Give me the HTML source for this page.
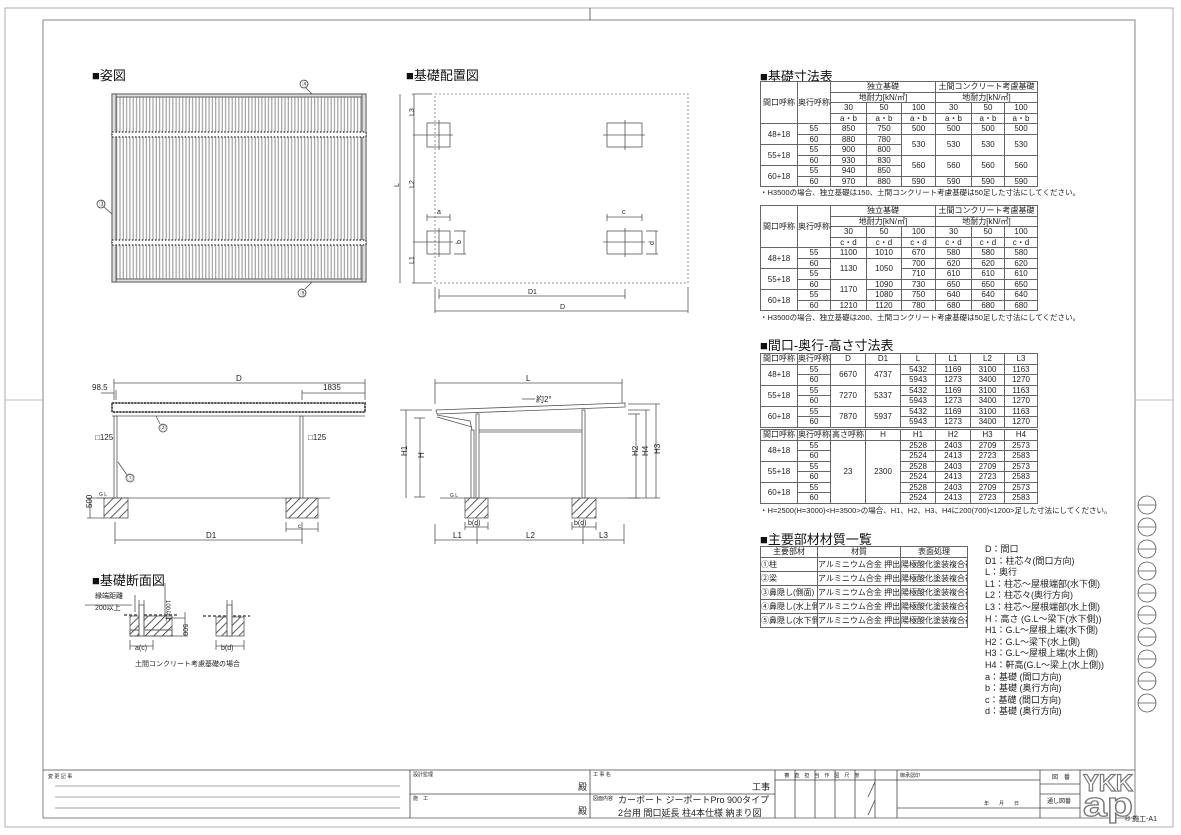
<!DOCTYPE html>
<html><head><meta charset="utf-8">
<style>
*{margin:0;padding:0;box-sizing:border-box}
body{width:1181px;height:835px;background:#fff;position:relative;overflow:hidden;font-family:"Liberation Sans","Noto Sans CJK JP",sans-serif;color:#222}
svg{position:absolute;left:0;top:0}
.t{position:absolute;border-collapse:collapse;table-layout:fixed;font-size:8px;text-align:center;font-family:"Liberation Sans","Noto Sans CJK JP",sans-serif;color:#222}
.t td{border:1px solid #666;padding:0;line-height:9px;height:10.5px;overflow:hidden;white-space:nowrap}
.h{position:absolute;font-size:13px;font-weight:normal;white-space:nowrap;color:#111}
.n{position:absolute;font-size:7.5px;white-space:nowrap}
.lg{position:absolute;left:985px;top:544px;font-size:9px;line-height:11.6px;white-space:nowrap}
</style></head><body>
<svg width="1181" height="835" viewBox="0 0 1181 835" font-family="Liberation Sans, Noto Sans CJK JP, sans-serif" font-size="8" fill="none" stroke="#444" stroke-width="0.8">
<defs>
<pattern id="st" width="3.3" height="10" patternUnits="userSpaceOnUse"><rect width="3.3" height="10" fill="#fff" stroke="none"/><line x1="1.2" y1="0" x2="1.2" y2="10" stroke="#999" stroke-width="1.1"/></pattern>
<pattern id="ht" width="6" height="6" patternUnits="userSpaceOnUse" patternTransform="rotate(45)"><line x1="0" y1="0" x2="0" y2="6" stroke="#333" stroke-width="1.6"/></pattern>
</defs>
<rect x="5" y="8" width="1168" height="819" stroke="#999"/>
<rect x="43" y="20" width="1092" height="798" stroke="#666"/>
<line x1="590" y1="8" x2="590" y2="20"/><line x1="5" y1="400" x2="43" y2="400" stroke="#aaa"/>
<line x1="1135" y1="400" x2="1173" y2="400" stroke="#aaa"/>
<g stroke="#555">
<circle cx="1147" cy="505" r="9"/><line x1="1138" y1="505" x2="1156" y2="505"/>
<circle cx="1147" cy="527" r="9"/><line x1="1138" y1="527" x2="1156" y2="527"/>
<circle cx="1147" cy="549" r="9"/><line x1="1138" y1="549" x2="1156" y2="549"/>
<circle cx="1147" cy="571" r="9"/><line x1="1138" y1="571" x2="1156" y2="571"/>
<circle cx="1147" cy="593" r="9"/><line x1="1138" y1="593" x2="1156" y2="593"/>
<circle cx="1147" cy="615" r="9"/><line x1="1138" y1="615" x2="1156" y2="615"/>
<circle cx="1147" cy="637" r="9"/><line x1="1138" y1="637" x2="1156" y2="637"/>
<circle cx="1147" cy="659" r="9"/><line x1="1138" y1="659" x2="1156" y2="659"/>
<circle cx="1147" cy="681" r="9"/><line x1="1138" y1="681" x2="1156" y2="681"/>
<circle cx="1147" cy="703" r="9"/><line x1="1138" y1="703" x2="1156" y2="703"/>
</g>
<line x1="43" y1="770" x2="1135" y2="770"/>
<line x1="410" y1="770" x2="410" y2="818"/><line x1="590" y1="770" x2="590" y2="818"/>
<line x1="410" y1="794" x2="775" y2="794"/>
<line x1="775" y1="770" x2="775" y2="818"/>
<line x1="795" y1="770" x2="795" y2="818"/><line x1="815" y1="770" x2="815" y2="818"/><line x1="835" y1="770" x2="835" y2="818"/><line x1="855" y1="770" x2="855" y2="818"/><line x1="875" y1="770" x2="875" y2="818"/><line x1="897" y1="770" x2="897" y2="818"/>
<line x1="775" y1="780" x2="1040" y2="780"/>
<line x1="875" y1="782" x2="868" y2="797"/><line x1="875" y1="800" x2="868" y2="815"/>
<line x1="897" y1="808" x2="1040" y2="808"/>
<line x1="1040" y1="770" x2="1040" y2="818"/><line x1="1080" y1="770" x2="1080" y2="818"/>
<line x1="1040" y1="784" x2="1080" y2="784"/><line x1="1040" y1="794" x2="1080" y2="794"/><line x1="1040" y1="808" x2="1080" y2="808"/>
<line x1="55" y1="786" x2="400" y2="786" stroke="#888"/><line x1="55" y1="797" x2="400" y2="797" stroke="#888"/><line x1="55" y1="808" x2="400" y2="808" stroke="#888"/>
<g fill="#222" stroke="none" font-size="5">
<text x="48" y="778">変 更 記 事</text><text x="413" y="776">設計監理</text><text x="413" y="800">施　工</text>
<text x="593" y="776">工 事 名</text><text x="593" y="800">図面内容</text>
<text x="778" y="777">　 審　査　担　当　作　図　尺　度</text><text x="900" y="777">御承認印</text>
<text x="984" y="805">年　　月　　日</text>
<text x="1052" y="779" font-size="6">図　番</text><text x="1047" y="803" font-size="6">通し図番</text>
</g>
<g fill="#222" stroke="none" font-size="9">
<text x="578" y="790">殿</text><text x="578" y="814">殿</text><text x="752" y="790">工事</text>
<text x="618" y="803">カーボート ジーポートPro 900タイプ</text>
<text x="618" y="816">2台用 間口延長 柱4本仕様 納まり図</text>
<text x="1125" y="821" font-size="7">® 施工-A1</text>
</g>
<g stroke="#777" stroke-width="1.2" font-weight="bold" fill="#fff">
<text x="1083" y="791" font-size="24" textLength="50" lengthAdjust="spacingAndGlyphs">YKK</text>
<text x="1083" y="816" font-size="34" textLength="50" lengthAdjust="spacingAndGlyphs">ap</text>
</g>
<rect x="112" y="94" width="254" height="188" fill="url(#st)" stroke="#555"/>
<rect x="112" y="94" width="254" height="3" fill="#ddd"/><rect x="112" y="279" width="254" height="3" fill="#ddd"/>
<rect x="112" y="94" width="4" height="188" fill="#ddd"/><rect x="362" y="94" width="4" height="188" fill="#ddd"/>
<rect x="112" y="132" width="254" height="5" fill="#fff" stroke="#444" stroke-dasharray="1.5 1.8" stroke-width="1.6"/>
<rect x="112" y="240" width="254" height="5" fill="#fff" stroke="#444" stroke-dasharray="1.5 1.8" stroke-width="1.6"/>
<circle cx="304" cy="84" r="4"/><line x1="306" y1="88" x2="312" y2="94"/>
<circle cx="101" cy="204" r="4"/><line x1="104" y1="207" x2="112" y2="214"/>
<circle cx="302" cy="293" r="4"/><line x1="305" y1="289" x2="312" y2="282"/>
<g fill="#222" stroke="none" font-size="6"><text x="302" y="86">④</text><text x="99" y="206">③</text><text x="300" y="295">⑤</text></g>
<rect x="435" y="94" width="253" height="189" stroke-dasharray="2 2" stroke="#777"/>
<g stroke="#555">
<rect x="427" y="123" width="23" height="24"/><line x1="413" y1="135" x2="453" y2="135"/><line x1="439" y1="120" x2="439" y2="150"/>
<rect x="607" y="123" width="35" height="24"/><line x1="603" y1="135" x2="645" y2="135"/><line x1="625" y1="120" x2="625" y2="150"/>
<rect x="427" y="231" width="23" height="23"/><line x1="413" y1="242" x2="453" y2="242"/><line x1="439" y1="228" x2="439" y2="257"/>
<rect x="607" y="231" width="35" height="23"/><line x1="603" y1="242" x2="645" y2="242"/><line x1="625" y1="228" x2="625" y2="257"/>
<line x1="427" y1="217" x2="450" y2="217"/><line x1="427" y1="214" x2="427" y2="221"/><line x1="450" y1="214" x2="450" y2="221"/>
<line x1="607" y1="217" x2="642" y2="217"/><line x1="607" y1="214" x2="607" y2="221"/><line x1="642" y1="214" x2="642" y2="221"/>
<line x1="464" y1="231" x2="464" y2="254"/><line x1="454" y1="231" x2="466" y2="231"/><line x1="454" y1="254" x2="466" y2="254"/>
<line x1="656" y1="231" x2="656" y2="254"/><line x1="646" y1="231" x2="658" y2="231"/><line x1="646" y1="254" x2="658" y2="254"/>
<line x1="400" y1="94" x2="400" y2="283"/><line x1="414" y1="94" x2="414" y2="283"/>
<line x1="412" y1="94" x2="432" y2="94"/><line x1="412" y1="283" x2="432" y2="283"/>
<line x1="439" y1="289" x2="439" y2="299"/><line x1="625" y1="289" x2="625" y2="299"/><line x1="439" y1="296" x2="625" y2="296"/>
<line x1="435" y1="287" x2="435" y2="313"/><line x1="688" y1="287" x2="688" y2="313"/><line x1="435" y1="311" x2="688" y2="311"/>
</g>
<g fill="#222" stroke="none" font-size="7">
<text x="437" y="214">a</text><text x="622" y="214">c</text><text x="460" y="243" transform="rotate(-90 461 243)">b</text><text x="651" y="244" transform="rotate(-90 653 243)">d</text>
<text x="528" y="294">D1</text><text x="560" y="309">D</text>
<text x="412" y="120" transform="rotate(-90 411 117)">L3</text><text x="412" y="192" transform="rotate(-90 411 189)">L2</text><text x="412" y="268" transform="rotate(-90 411 265)">L1</text><text x="398" y="190" transform="rotate(-90 397 188)">L</text>
</g>
<g stroke="#555">
<line x1="114" y1="383" x2="365" y2="383"/><line x1="114" y1="379" x2="114" y2="400"/><line x1="365" y1="379" x2="365" y2="400"/>
<line x1="302" y1="393" x2="365" y2="393"/><line x1="302" y1="390" x2="302" y2="400"/>
<line x1="101" y1="393" x2="114" y2="393"/><line x1="116" y1="390" x2="116" y2="400"/>
<rect x="112" y="403" width="253" height="9" fill="#fff" stroke-dasharray="2 1.2" stroke-width="2"/>
<rect x="112" y="403" width="253" height="9"/><line x1="112" y1="416" x2="365" y2="416"/>
<rect x="114" y="416" width="3" height="82"/><rect x="300" y="416" width="3" height="82"/>
<line x1="97" y1="498" x2="330" y2="498"/>
<rect x="104" y="498" width="24" height="20" fill="url(#ht)"/><rect x="286" y="498" width="32" height="20" fill="url(#ht)"/>
<line x1="115" y1="522" x2="115" y2="544"/><line x1="302" y1="522" x2="302" y2="544"/><line x1="115" y1="540" x2="302" y2="540"/>
<line x1="286" y1="522" x2="286" y2="532"/><line x1="318" y1="522" x2="318" y2="532"/><line x1="286" y1="529" x2="318" y2="529"/>
<line x1="90" y1="498" x2="90" y2="518"/><line x1="87" y1="498" x2="104" y2="498"/><line x1="87" y1="518" x2="104" y2="518"/>
<circle cx="130" cy="478" r="4"/><line x1="127" y1="475" x2="118" y2="462"/>
<circle cx="163" cy="428" r="4"/><line x1="160" y1="424" x2="156" y2="416"/>
</g>
<g fill="#222" stroke="none" font-size="8">
<text x="236" y="381">D</text><text x="92" y="390">98.5</text><text x="323" y="390">1835</text>
<text x="95" y="440">□125</text><text x="308" y="440">□125</text>
<text x="206" y="538">D1</text><text x="298" y="528" font-size="6">c</text>
<text x="88" y="512" transform="rotate(-90 88 508)">500</text><text x="99" y="496" font-size="5">G L</text>
<text x="127" y="480" font-size="6">①</text><text x="160" y="430" font-size="6">②</text>
</g>
<g stroke="#555">
<line x1="435" y1="383" x2="622" y2="383"/><line x1="435" y1="379" x2="435" y2="404"/><line x1="622" y1="379" x2="622" y2="404"/>
<polygon points="436,410 625,403 625,407 437,414" fill="#fff"/>
<polyline points="437,415 470,421 472,430"/><line x1="437" y1="417" x2="472" y2="427"/>
<rect x="471" y="430" width="3" height="68"/>
<rect x="476" y="414" width="3" height="84"/><rect x="582" y="410" width="3" height="88"/>
<line x1="479" y1="430" x2="582" y2="430"/><line x1="479" y1="432" x2="582" y2="432"/>
<line x1="440" y1="498" x2="640" y2="498"/>
<rect x="465" y="498" width="23" height="20" fill="url(#ht)"/><rect x="572" y="498" width="24" height="20" fill="url(#ht)"/>
<line x1="420" y1="418" x2="420" y2="497"/><line x1="414" y1="418" x2="425" y2="418"/><line x1="414" y1="497" x2="425" y2="497"/>
<line x1="406" y1="410" x2="406" y2="498"/><line x1="400" y1="410" x2="432" y2="410"/>
<line x1="636" y1="414" x2="636" y2="498"/><line x1="646" y1="410" x2="646" y2="498"/><line x1="656" y1="404" x2="656" y2="498"/>
<line x1="628" y1="414" x2="640" y2="414"/><line x1="628" y1="410" x2="650" y2="410"/><line x1="628" y1="404" x2="660" y2="404"/><line x1="628" y1="498" x2="660" y2="498"/>
<line x1="465" y1="522" x2="465" y2="530"/><line x1="488" y1="522" x2="488" y2="530"/><line x1="465" y1="527" x2="488" y2="527"/>
<line x1="572" y1="522" x2="572" y2="530"/><line x1="596" y1="522" x2="596" y2="530"/><line x1="572" y1="527" x2="596" y2="527"/>
<line x1="435" y1="524" x2="435" y2="544"/><line x1="477" y1="524" x2="477" y2="544"/><line x1="583" y1="524" x2="583" y2="544"/><line x1="624" y1="524" x2="624" y2="544"/>
<line x1="435" y1="540" x2="624" y2="540"/><line x1="522" y1="399" x2="535" y2="399"/>
</g>
<g fill="#222" stroke="none" font-size="8">
<text x="526" y="381">L</text><text x="536" y="402">約2°</text>
<text x="453" y="538">L1</text><text x="526" y="538">L2</text><text x="599" y="538">L3</text>
<text x="468" y="525" font-size="7">b(d)</text><text x="574" y="525" font-size="7">b(d)</text>
<text x="421" y="461" transform="rotate(-90 421 458)">H</text><text x="406" y="461" transform="rotate(-90 404 458)">H1</text>
<text x="636" y="462" transform="rotate(-90 634 458)">H2</text><text x="646" y="462" transform="rotate(-90 644 458)">H4</text><text x="656" y="462" transform="rotate(-90 654 456)">H3</text>
<text x="450" y="497" font-size="5">G L</text>
</g>
<g stroke="#555">
<line x1="124" y1="615" x2="178" y2="615" stroke-width="1.6" stroke-dasharray="3 2"/>
<rect x="130" y="616" width="42" height="20" fill="url(#ht)"/><rect x="130" y="630" width="42" height="6" fill="#fff"/><rect x="130" y="630" width="42" height="6" fill="url(#ht)"/>
<rect x="139" y="605" width="5" height="31" fill="#fff"/><line x1="139" y1="600" x2="139" y2="636"/><line x1="144" y1="600" x2="144" y2="636"/>
<line x1="130" y1="640" x2="130" y2="650"/><line x1="153" y1="640" x2="153" y2="650"/><line x1="130" y1="646" x2="153" y2="646"/>
<line x1="135" y1="595" x2="135" y2="612"/><line x1="85" y1="605" x2="132" y2="605"/>
<line x1="165" y1="583" x2="165" y2="615"/><line x1="165" y1="618" x2="185" y2="618"/><line x1="185" y1="612" x2="185" y2="636"/><line x1="172" y1="636" x2="188" y2="636"/>
<line x1="203" y1="616" x2="250" y2="616" stroke-width="1.6" stroke-dasharray="3 2"/>
<rect x="216" y="617" width="28" height="19" fill="url(#ht)"/>
<rect x="227" y="605" width="5" height="31" fill="#fff"/><line x1="227" y1="600" x2="227" y2="636"/><line x1="232" y1="600" x2="232" y2="636"/>
<line x1="216" y1="640" x2="216" y2="650"/><line x1="244" y1="640" x2="244" y2="650"/><line x1="216" y1="646" x2="244" y2="646"/>
</g>
<g fill="#222" stroke="none" font-size="7">
<text x="95" y="598">縁端距離</text><text x="95" y="610">200以上</text>
<text x="170" y="604" transform="rotate(90 170 600)" font-size="6">100以上</text><text x="183" y="624" transform="rotate(90 183 624)">500</text>
<text x="135" y="650">a(c)</text><text x="221" y="650">b(d)</text>
<text x="135" y="666">土間コンクリート考慮基礎の場合</text>
</g>
</svg>

<div class="h" style="left:92px;top:65px">■姿図</div>
<div class="h" style="left:406px;top:65px">■基礎配置図</div>
<div class="h" style="left:92px;top:570px">■基礎断面図</div>
<div class="h" style="left:760px;top:66px">■基礎寸法表</div>
<div class="h" style="left:760px;top:335px">■間口-奥行-高さ寸法表</div>
<div class="h" style="left:760px;top:529px">■主要部材材質一覧</div>

<table class="t" style="left:760px;top:81px;width:277px">
<colgroup><col style="width:37px"><col style="width:33px"><col style="width:36px"><col style="width:35px"><col style="width:34px"><col style="width:36px"><col style="width:33px"><col style="width:33px"></colgroup>
<tr><td rowspan="4">間口呼称</td><td rowspan="4">奥行呼称</td><td colspan="3">独立基礎</td><td colspan="3">土間コンクリート考慮基礎</td></tr>
<tr><td colspan="3">地耐力[kN/㎡]</td><td colspan="3">地耐力[kN/㎡]</td></tr>
<tr><td>30</td><td>50</td><td>100</td><td>30</td><td>50</td><td>100</td></tr>
<tr><td>a・b</td><td>a・b</td><td>a・b</td><td>a・b</td><td>a・b</td><td>a・b</td></tr>
<tr><td rowspan="2">48+18</td><td>55</td><td>850</td><td>750</td><td>500</td><td>500</td><td>500</td><td>500</td></tr>
<tr><td>60</td><td>880</td><td>780</td><td rowspan="2">530</td><td rowspan="2">530</td><td rowspan="2">530</td><td rowspan="2">530</td></tr>
<tr><td rowspan="2">55+18</td><td>55</td><td>900</td><td>800</td></tr>
<tr><td>60</td><td>930</td><td>830</td><td rowspan="2">560</td><td rowspan="2">560</td><td rowspan="2">560</td><td rowspan="2">560</td></tr>
<tr><td rowspan="2">60+18</td><td>55</td><td>940</td><td>850</td></tr>
<tr><td>60</td><td>970</td><td>880</td><td>590</td><td>590</td><td>590</td><td>590</td></tr>
</table>
<div class="n" style="left:760px;top:187px">・H3500の場合、独立基礎は150、土間コンクリート考慮基礎は50足した寸法にしてください。</div>

<table class="t" style="left:760px;top:205px;width:277px">
<colgroup><col style="width:37px"><col style="width:33px"><col style="width:36px"><col style="width:35px"><col style="width:34px"><col style="width:36px"><col style="width:33px"><col style="width:33px"></colgroup>
<tr><td rowspan="4">間口呼称</td><td rowspan="4">奥行呼称</td><td colspan="3">独立基礎</td><td colspan="3">土間コンクリート考慮基礎</td></tr>
<tr><td colspan="3">地耐力[kN/㎡]</td><td colspan="3">地耐力[kN/㎡]</td></tr>
<tr><td>30</td><td>50</td><td>100</td><td>30</td><td>50</td><td>100</td></tr>
<tr><td>c・d</td><td>c・d</td><td>c・d</td><td>c・d</td><td>c・d</td><td>c・d</td></tr>
<tr><td rowspan="2">48+18</td><td>55</td><td>1100</td><td>1010</td><td>670</td><td>580</td><td>580</td><td>580</td></tr>
<tr><td>60</td><td rowspan="2">1130</td><td rowspan="2">1050</td><td>700</td><td>620</td><td>620</td><td>620</td></tr>
<tr><td rowspan="2">55+18</td><td>55</td><td>710</td><td>610</td><td>610</td><td>610</td></tr>
<tr><td>60</td><td rowspan="2">1170</td><td>1090</td><td>730</td><td>650</td><td>650</td><td>650</td></tr>
<tr><td rowspan="2">60+18</td><td>55</td><td>1080</td><td>750</td><td>640</td><td>640</td><td>640</td></tr>
<tr><td>60</td><td>1210</td><td>1120</td><td>780</td><td>680</td><td>680</td><td>680</td></tr>
</table>
<div class="n" style="left:760px;top:312px">・H3500の場合、独立基礎は200、土間コンクリート考慮基礎は50足した寸法にしてください。</div>

<table class="t" style="left:760px;top:353px;width:277px">
<colgroup><col style="width:37px"><col style="width:33px"><col style="width:35px"><col style="width:35px"><col style="width:35px"><col style="width:35px"><col style="width:34px"><col style="width:33px"></colgroup>
<tr><td>間口呼称</td><td>奥行呼称</td><td>D</td><td>D1</td><td>L</td><td>L1</td><td>L2</td><td>L3</td></tr>
<tr><td rowspan="2">48+18</td><td>55</td><td rowspan="2">6670</td><td rowspan="2">4737</td><td>5432</td><td>1169</td><td>3100</td><td>1163</td></tr>
<tr><td>60</td><td>5943</td><td>1273</td><td>3400</td><td>1270</td></tr>
<tr><td rowspan="2">55+18</td><td>55</td><td rowspan="2">7270</td><td rowspan="2">5337</td><td>5432</td><td>1169</td><td>3100</td><td>1163</td></tr>
<tr><td>60</td><td>5943</td><td>1273</td><td>3400</td><td>1270</td></tr>
<tr><td rowspan="2">60+18</td><td>55</td><td rowspan="2">7870</td><td rowspan="2">5937</td><td>5432</td><td>1169</td><td>3100</td><td>1163</td></tr>
<tr><td>60</td><td>5943</td><td>1273</td><td>3400</td><td>1270</td></tr>
</table>
<table class="t" style="left:760px;top:429px;width:277px">
<colgroup><col style="width:37px"><col style="width:33px"><col style="width:35px"><col style="width:35px"><col style="width:35px"><col style="width:35px"><col style="width:34px"><col style="width:33px"></colgroup>
<tr><td>間口呼称</td><td>奥行呼称</td><td>高さ呼称</td><td>H</td><td>H1</td><td>H2</td><td>H3</td><td>H4</td></tr>
<tr><td rowspan="2">48+18</td><td>55</td><td rowspan="6">23</td><td rowspan="6">2300</td><td>2528</td><td>2403</td><td>2709</td><td>2573</td></tr>
<tr><td>60</td><td>2524</td><td>2413</td><td>2723</td><td>2583</td></tr>
<tr><td rowspan="2">55+18</td><td>55</td><td>2528</td><td>2403</td><td>2709</td><td>2573</td></tr>
<tr><td>60</td><td>2524</td><td>2413</td><td>2723</td><td>2583</td></tr>
<tr><td rowspan="2">60+18</td><td>55</td><td>2528</td><td>2403</td><td>2709</td><td>2573</td></tr>
<tr><td>60</td><td>2524</td><td>2413</td><td>2723</td><td>2583</td></tr>
</table>
<div class="n" style="left:760px;top:505px">・H=2500(H=3000)&lt;H=3500&gt;の場合、H1、H2、H3、H4に200(700)&lt;1200&gt;足した寸法にしてください。</div>

<table class="t" style="left:760px;top:546px;width:207px;text-align:left">
<colgroup><col style="width:57px"><col style="width:83px"><col style="width:67px"></colgroup>
<tr><td style="text-align:center;height:10px">主要部材</td><td style="text-align:center">材質</td><td style="text-align:center">表面処理</td></tr>
<tr><td style="height:14px">①柱</td><td>アルミニウム合金 押出形材</td><td>陽極酸化塗装複合被膜</td></tr>
<tr><td style="height:14px">②梁</td><td>アルミニウム合金 押出形材</td><td>陽極酸化塗装複合被膜</td></tr>
<tr><td style="height:14px">③鼻隠し(側面)</td><td>アルミニウム合金 押出形材</td><td>陽極酸化塗装複合被膜</td></tr>
<tr><td style="height:14px">④鼻隠し(水上側)</td><td>アルミニウム合金 押出形材</td><td>陽極酸化塗装複合被膜</td></tr>
<tr><td style="height:14px">⑤鼻隠し(水下側)</td><td>アルミニウム合金 押出形材</td><td>陽極酸化塗装複合被膜</td></tr>
</table>
<div class="lg">D：間口<br>D1：柱芯々(間口方向)<br>L：奥行<br>L1：柱芯～屋根端部(水下側)<br>L2：柱芯々(奥行方向)<br>L3：柱芯～屋根端部(水上側)<br>H：高さ (G.L～梁下(水下側))<br>H1：G.L～屋根上端(水下側)<br>H2：G.L～梁下(水上側)<br>H3：G.L～屋根上端(水上側)<br>H4：軒高(G.L～梁上(水上側))<br>a：基礎 (間口方向)<br>b：基礎 (奥行方向)<br>c：基礎 (間口方向)<br>d：基礎 (奥行方向)</div>
</body></html>
